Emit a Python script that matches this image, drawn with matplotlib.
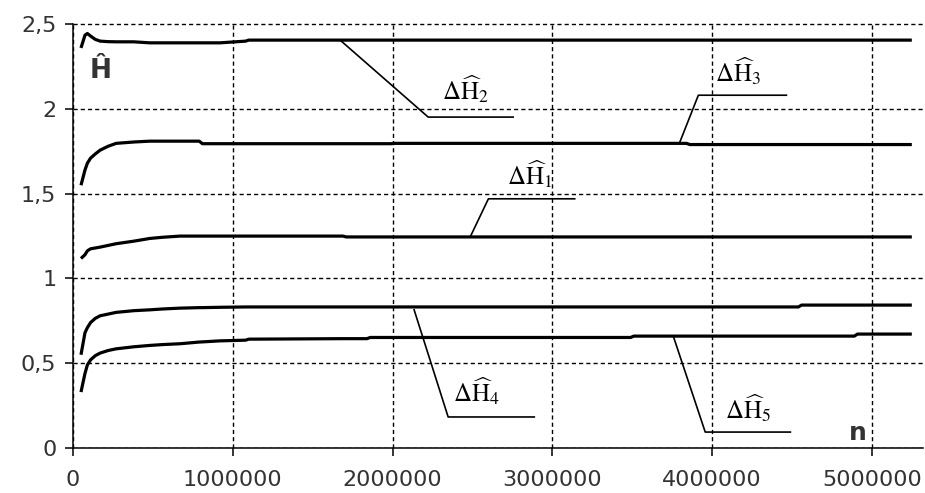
import matplotlib.pyplot as plt
from matplotlib.ticker import FuncFormatter

# valores de n (millones) y de las cinco curvas de entropia
n_mill = [0.05, 0.075, 0.09, 0.11, 0.14, 0.17, 0.22, 0.27, 0.38, 0.48, 0.56,
          0.67, 0.79, 0.81, 0.92, 1.08, 1.1, 1.69, 1.71, 1.84, 1.86, 1.99,
          2.01, 3.49, 3.51, 3.84, 3.86, 4.54, 4.56, 4.89, 4.91, 5.25]
h_hat = [2.36, 2.435, 2.445, 2.43, 2.41, 2.40, 2.397, 2.396, 2.396, 2.39, 2.39,
         2.39, 2.39, 2.39, 2.39, 2.40, 2.406, 2.406, 2.406, 2.406, 2.406, 2.406,
         2.406, 2.406, 2.406, 2.406, 2.406, 2.406, 2.406, 2.406, 2.406, 2.406]
dh3 = [1.55, 1.64, 1.68, 1.71, 1.735, 1.757, 1.78, 1.797, 1.805, 1.81, 1.81,
       1.81, 1.81, 1.795, 1.795, 1.795, 1.795, 1.795, 1.795, 1.795, 1.795, 1.795,
       1.797, 1.797, 1.797, 1.797, 1.79, 1.79, 1.79, 1.79, 1.79, 1.79]
dh1 = [1.118, 1.14, 1.163, 1.175, 1.18, 1.185, 1.195, 1.205, 1.22, 1.236, 1.243,
       1.25, 1.25, 1.25, 1.25, 1.25, 1.25, 1.25, 1.245, 1.245, 1.245, 1.245,
       1.245, 1.245, 1.245, 1.245, 1.245, 1.245, 1.245, 1.245, 1.245, 1.245]
dh4 = [0.55, 0.68, 0.71, 0.74, 0.765, 0.78, 0.79, 0.80, 0.81, 0.815, 0.82,
       0.825, 0.828, 0.828, 0.83, 0.832, 0.832, 0.832, 0.832, 0.832, 0.832, 0.832,
       0.832, 0.832, 0.832, 0.832, 0.832, 0.832, 0.843, 0.843, 0.843, 0.843]
dh5 = [0.33, 0.44, 0.49, 0.52, 0.545, 0.56, 0.575, 0.585, 0.597, 0.605, 0.61,
       0.615, 0.625, 0.626, 0.632, 0.636, 0.642, 0.645, 0.645, 0.645, 0.652, 0.652,
       0.652, 0.652, 0.66, 0.66, 0.66, 0.66, 0.66, 0.66, 0.672, 0.672]

x_ticks = [0, 1000000, 2000000, 3000000, 4000000, 5000000]
y_ticks = [0, 0.5, 1, 1.5, 2, 2.5]

# etiquetas de cada curva: (texto, posicion del texto, linea guia)
etiquetas = [
    (r'$\Delta\widehat{\mathrm{H}}_2$', (2.31, 2.052), [(1.672, 2.406), (2.223, 1.952), (2.755, 1.952)]),
    (r'$\Delta\widehat{\mathrm{H}}_3$', (4.02, 2.16), [(3.795, 1.797), (3.914, 2.081), (4.465, 2.081)]),
    (r'$\Delta\widehat{\mathrm{H}}_1$', (2.718, 1.551), [(2.486, 1.245), (2.60, 1.47), (3.14, 1.47)]),
    (r'$\Delta\widehat{\mathrm{H}}_4$', (2.38, 0.273), [(2.135, 0.815), (2.348, 0.183), (2.887, 0.183)]),
    (r'$\Delta\widehat{\mathrm{H}}_5$', (4.08, 0.175), [(3.757, 0.66), (3.957, 0.094), (4.49, 0.094)]),
]

plt.rcParams['mathtext.fontset'] = 'stix'

fig = plt.figure(figsize=(9.25, 4.93), dpi=100)
ax = fig.add_axes([73 / 925, 45 / 493, 850 / 925, 425 / 493])

n = [v * 1e6 for v in n_mill]
for serie in (h_hat, dh3, dh1, dh4, dh5):
    ax.plot(n, serie, color='black', linewidth=2.3, zorder=3, solid_capstyle='butt')

for texto, (tx, ty), guia in etiquetas:
    gx = [p[0] * 1e6 for p in guia]
    gy = [p[1] for p in guia]
    ax.plot(gx, gy, color='black', linewidth=1.2, zorder=4)
    ax.text(tx * 1e6, ty, texto, fontsize=18, color='black', ha='left', va='baseline', zorder=5)

ax.text(0.17e6, 2.225, 'Ĥ', fontsize=19, fontweight='bold', color='#333333',
        ha='center', va='center')
ax.text(4.915e6, 0.09, 'n', fontsize=18, fontweight='bold', color='#333333',
        ha='center', va='center')

ax.set_xlim(0, 5.32e6)
ax.set_ylim(0, 2.507)
ax.set_xticks(x_ticks)
ax.set_yticks(y_ticks)
ax.xaxis.set_major_formatter(FuncFormatter(lambda v, p: '%d' % v))
ax.yaxis.set_major_formatter(FuncFormatter(lambda v, p: ('%g' % v).replace('.', ',')))

ax.grid(True, color='black', linestyle=(0, (3, 2.2)), linewidth=1.0, zorder=1)
ax.set_axisbelow(True)
for lado in ('top', 'right'):
    ax.spines[lado].set_visible(False)
for lado in ('left', 'bottom'):
    ax.spines[lado].set_linewidth(1.1)
ax.spines['left'].set_bounds(0, 2.5)

ax.tick_params(axis='both', direction='out', length=6, width=1.1, labelsize=16,
               labelcolor='#333333')
ax.tick_params(axis='x', pad=10)
ax.tick_params(axis='y', pad=6)

fig.savefig('out.png', dpi=100)
